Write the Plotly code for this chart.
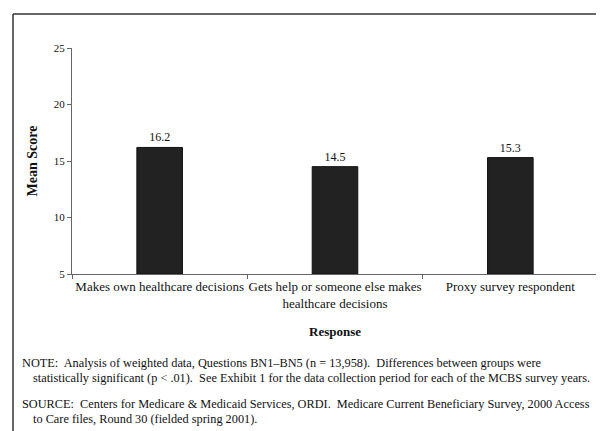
import plotly.graph_objects as go

categories = ["Makes own healthcare decisions",
              "Gets help or someone else makes<br>healthcare decisions",
              "Proxy survey respondent"]
values = [16.2, 14.5, 15.3]
value_labels = ["16.2", "14.5", "15.3"]
y_ticks = [5, 10, 15, 20, 25]
axis_base = 5

FONT = "Liberation Serif"
W, H = 604, 431
L, R, T, B = 64, 14, 40, 165
pw, ph = W - L - R, H - T - B

def px(x):
    return (x - L) / pw

def py(y):
    return (H - B - y) / ph

fig = go.Figure()
fig.add_trace(go.Bar(
    x=categories, y=[v - axis_base for v in values], base=axis_base,
    text=value_labels, textposition="outside",
    textfont=dict(family=FONT, size=12, color="#111"),
    marker=dict(color="#222222", line=dict(color="#111111", width=1)),
    cliponaxis=False,
))

fig.update_layout(
    width=W, height=H,
    margin=dict(l=L, r=R, t=T, b=B, autoexpand=False),
    paper_bgcolor="white", plot_bgcolor="white",
    bargap=0.74, showlegend=False,
    font=dict(family=FONT, color="#111", size=12),
    xaxis=dict(
        showline=True, linecolor="#666", linewidth=1,
        ticks="outside", tickson="boundaries", ticklen=4, tickcolor="#666",
        tickangle=0, automargin=False,
        tickfont=dict(family=FONT, size=13, color="#111"),
        showgrid=False,
    ),
    yaxis=dict(
        range=[5, 25], tickvals=y_ticks, showline=True, linecolor="#666", linewidth=1,
        ticks="outside", ticklen=4, tickcolor="#666", automargin=False,
        tickfont=dict(family=FONT, size=11, color="#111"),
        title=dict(text="<b>Mean Score</b>", font=dict(family=FONT, size=14), standoff=12),
        showgrid=False, zeroline=False,
    ),
)

fig.add_annotation(x=px(327), y=py(323), xref="paper", yref="paper", text="<b>Response</b>",
                   showarrow=False, xanchor="center", yanchor="middle",
                   font=dict(family=FONT, size=13, color="#111"))

notes = [
    (12, 355, "NOTE:  Analysis of weighted data, Questions BN1–BN5 (n = 13,958).  Differences between groups were"),
    (23, 370, "statistically significant (p < .01).  See Exhibit 1 for the data collection period for each of the MCBS survey years."),
    (12, 396, "SOURCE:  Centers for Medicare & Medicaid Services, ORDI.  Medicare Current Beneficiary Survey, 2000 Access"),
    (23, 411, "to Care files, Round 30 (fielded spring 2001)."),
]
for x, y, t in notes:
    fig.add_annotation(x=px(x), y=py(y), xref="paper", yref="paper", text=t,
                       showarrow=False, xanchor="left", yanchor="middle",
                       font=dict(family=FONT, size=12.3, color="#111"))

# page frame lines
fig.add_shape(type="line", xref="paper", yref="paper", x0=px(5), x1=px(5), y0=py(6), y1=py(424),
              line=dict(color="#333", width=1.5))
fig.add_shape(type="line", xref="paper", yref="paper", x0=px(5), x1=px(604), y0=py(6), y1=py(6),
              line=dict(color="#333", width=1.5))

fig.write_html("out.html")
